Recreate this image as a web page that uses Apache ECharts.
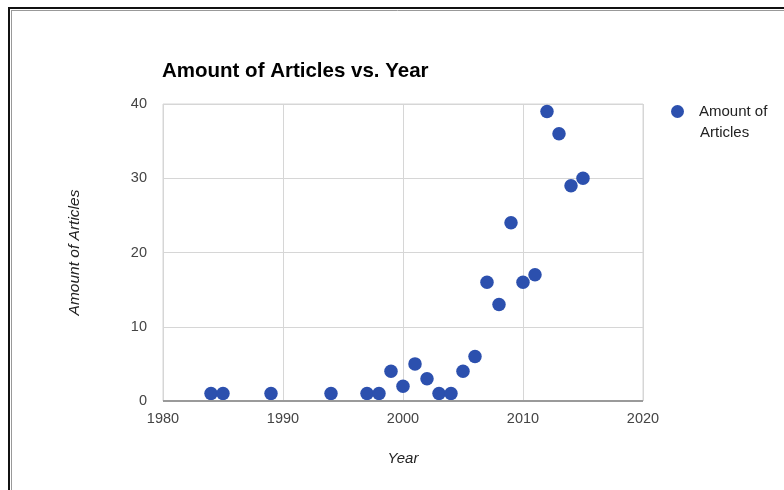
<!DOCTYPE html>
<html><head><meta charset="utf-8">
<script src="https://cdn.jsdelivr.net/npm/echarts@6/dist/echarts.min.js"></script>
<style>html,body{margin:0;padding:0;background:#fff}#c{width:784px;height:490px}</style>
</head><body><div id="c"></div>
<script>
const years = [1984,1985,1989,1994,1997,1998,1999,2000,2001,2002,2003,2004,2005,2006,2007,2008,2009,2010,2011,2012,2013,2014,2015];
const articles = [1,1,1,1,1,1,4,2,5,3,1,1,4,6,16,13,24,16,17,39,36,29,30];
const xTicks = [1980,1990,2000,2010,2020];
const yTicks = [0,10,20,30,40];
const seriesName = 'Amount of Articles';
const legendLines = ['Amount of', 'Articles'];

const chart = echarts.init(document.getElementById('c'), null, {renderer:'canvas'});
const font = 'Liberation Sans, Arial, sans-serif';
chart.setOption({
  animation:false,
  title:{text:'Amount of Articles vs. Year', left:157, top:56,
    textStyle:{fontFamily:font, fontSize:20.5, fontWeight:'bold', color:'#000'}},
  legend:{show:true, left:666, top:99, orient:'vertical', itemWidth:13, itemHeight:13,
    data:[{name:seriesName, icon:'circle'}],
    formatter:()=> legendLines[0],
    textStyle:{fontFamily:font, fontSize:15, color:'#222', padding:[0,0,0,10]}},
  grid:{left:163, top:104, width:480, height:297, show:true, borderColor:'#d6d6d6', borderWidth:1},
  xAxis:{type:'value', min:xTicks[0], max:xTicks[xTicks.length-1], interval:10,
    name:'Year', nameLocation:'middle', nameGap:50,
    nameTextStyle:{fontFamily:font, fontSize:15, fontStyle:'italic', color:'#222'},
    axisLine:{show:false}, axisTick:{show:false},
    axisLabel:{fontFamily:font, fontSize:14.5, color:'#444', margin:10, formatter:v=>String(v)},
    splitLine:{show:true, lineStyle:{color:'#d6d6d6', width:1}}},
  yAxis:{type:'value', min:yTicks[0], max:yTicks[yTicks.length-1], interval:10,
    name:'Amount of Articles', nameLocation:'middle', nameGap:80,
    nameTextStyle:{fontFamily:font, fontSize:15.5, fontStyle:'italic', color:'#222'},
    axisLine:{show:false}, axisTick:{show:false},
    axisLabel:{fontFamily:font, fontSize:14.5, color:'#444', margin:16},
    splitLine:{show:true, lineStyle:{color:'#d6d6d6', width:1}}},
  series:[
    {name:seriesName, type:'scatter', symbolSize:13.5,
     itemStyle:{color:'#2c50ae', opacity:1},
     data: years.map((y,i)=>[y, articles[i]]),
     markLine:{silent:true, symbol:'none', label:{show:false},
       lineStyle:{color:'#9a9a9a', width:2, type:'solid'},
       data:[{yAxis:0}]}}
  ],
  graphic:[
    {type:'text', left:700, top:125, silent:true,
     style:{text:legendLines[1], font:'15px Liberation Sans, Arial, sans-serif', fill:'#222'}},
    {type:'rect', shape:{x:9, y:8, width:800, height:600}, silent:true,
     style:{fill:null, stroke:'#111', lineWidth:2}, z:100},
    {type:'line', shape:{x1:11, y1:10.5, x2:784, y2:10.5}, silent:true, style:{stroke:'#999', lineWidth:1}, z:100},
    {type:'line', shape:{x1:11.5, y1:10, x2:11.5, y2:490}, silent:true, style:{stroke:'#999', lineWidth:1}, z:100}
  ]
});
</script></body></html>
